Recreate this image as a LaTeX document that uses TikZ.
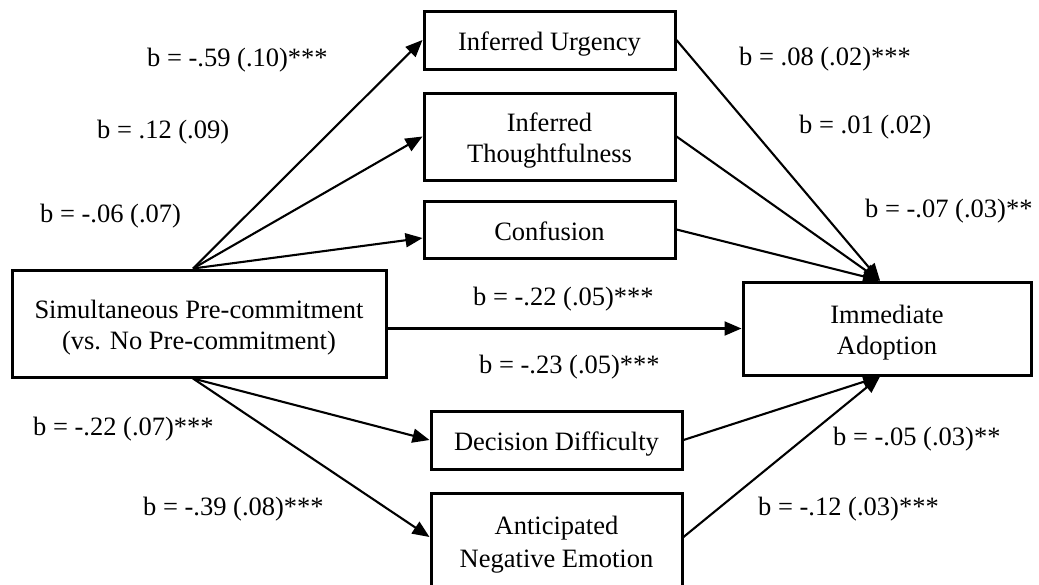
\documentclass[tikz,border=0pt]{standalone}
\usepackage{fontspec}
\setmainfont{Liberation Serif}
\usetikzlibrary{arrows.meta,calc}
\newcommand\lstr{\rule[-5pt]{0pt}{31pt}}
\begin{document}
\begin{tikzpicture}[x=1pt,y=-1pt,
  every node/.style={font=\fontsize{26.5}{31}\selectfont},
  box/.style={draw, line width=3pt, inner sep=0pt, align=center},
  lbl/.style={anchor=base west, inner sep=0pt},
  arr/.style={-{Triangle[length=17pt,width=14pt]}, line width=2.1pt}]
\useasboundingbox (0,0) rectangle (1039,584);
\clip (0,0) rectangle (1039,584);
% boxes
\node[box, minimum width=374pt, minimum height=107pt] (src) at (199,323.5)
  {\lstr Simultaneous Pre-commitment\\\lstr(vs. No Pre-commitment)};
\node[box, minimum width=251pt, minimum height=58pt] (urg) at (549.5,40)
  {\lstr Inferred Urgency};
\node[box, minimum width=251pt, minimum height=87pt] (tho) at (549.5,136.5)
  {\lstr Inferred\\\lstr Thoughtfulness};
\node[box, minimum width=251pt, minimum height=57pt] (con) at (549.5,229.5)
  {\lstr Confusion};
\node[box, minimum width=288pt, minimum height=93pt] (imm) at (887,328.5)
  {\lstr Immediate\\\lstr Adoption};
\node[box, minimum width=251pt, minimum height=58pt] (dec) at (556.5,440)
  {\lstr Decision Difficulty};
\node[box, minimum width=251pt, inner ysep=15pt, anchor=north] (ant) at (556.5,492)
  {\lstr Anticipated\\\lstr Negative Emotion\rule[-60pt]{0pt}{0pt}};
% helper points
\coordinate (st) at ($(src.north)+(-6,0)$);
\coordinate (sb) at ($(src.south)+(-6,0)$);
\coordinate (it) at ($(imm.north)+(-7,0)$);
\coordinate (ib) at ($(imm.south)+(-7,0)$);
\coordinate (cw) at ($(con.west)+(0,8.5)$);
\coordinate (aw) at ($(ant.north west)+(0,45)$);
\coordinate (ae) at ($(ant.north east)+(0,45)$);
% connectors
\draw[arr] (st) -- (urg.west);
\draw[arr] (st) -- (tho.west);
\draw[arr] (st) -- (cw);
\draw[arr] (urg.east) -- (it);
\draw[arr] (tho.east) -- (it);
\draw[arr] (con.east) -- (it);
\draw[arr] (src.east |- imm.west) -- (imm.west);
\draw[arr] (sb) -- (dec.west);
\draw[arr] (sb) -- (aw);
\draw[arr] (dec.east) -- (ib);
\draw[arr] (ae) -- (ib);
% labels
\node[lbl] (l1) at (147,66) {b = -.59 (.10)***};
\node[lbl] (l2) at (97,138) {b = .12 (.09)};
\node[lbl] (l3) at (40,222) {b = -.06 (.07)};
\node[lbl] (l4) at (739,65) {b = .08 (.02)***};
\node[lbl] (l5) at (799,133) {b = .01 (.02)};
\node[lbl] (l6) at (865,217) {b = -.07 (.03)**};
\node[lbl] (l7) at (473,305) {b = -.22 (.05)***};
\node[lbl] (l8) at (479,373) {b = -.23 (.05)***};
\node[lbl] (l9) at (33,435) {b = -.22 (.07)***};
\node[lbl] (l10) at (143,515) {b = -.39 (.08)***};
\node[lbl] (l11) at (833,445) {b = -.05 (.03)**};
\node[lbl] (l12) at (758,515) {b = -.12 (.03)***};
\end{tikzpicture}
\end{document}
